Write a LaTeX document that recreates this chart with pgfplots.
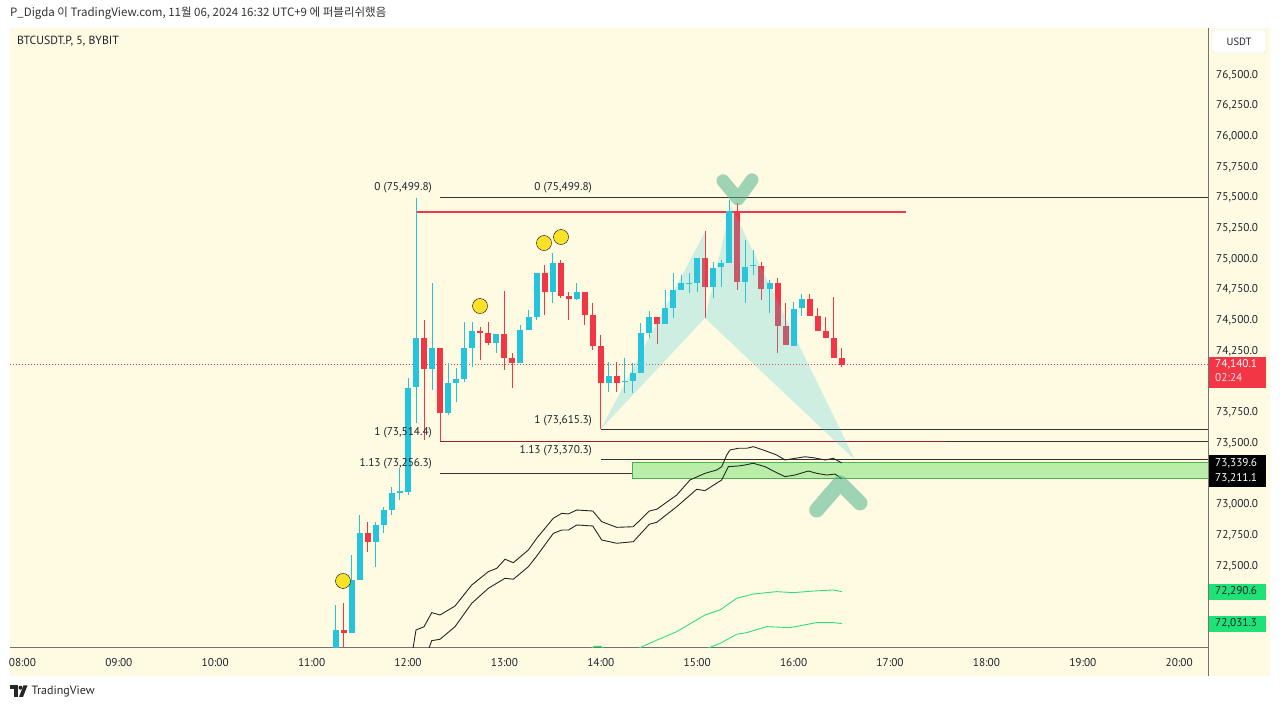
\documentclass[border=0pt]{standalone}
\usepackage{pgfplots}
\pgfplotsset{compat=1.18}
\usepackage{pgfplotstable}
\usepackage{fontspec}
\setmainfont{PT Sans}
\newfontfamily\krfont{Noto Sans CJK KR}

\definecolor{bgc}{RGB}{255,251,227}
\definecolor{upc}{RGB}{36,196,220}
\definecolor{dnc}{RGB}{242,54,69}
\definecolor{patc}{RGB}{60,200,220}
\definecolor{markc}{RGB}{80,180,140}
\definecolor{dotc}{RGB}{250,226,40}
\definecolor{grnc}{RGB}{50,222,120}
\definecolor{boxg}{RGB}{186,238,168}
\definecolor{boxgd}{RGB}{76,175,80}
\definecolor{lblg}{RGB}{30,226,120}
\definecolor{fibred}{RGB}{150,30,45}
\definecolor{txt}{RGB}{30,34,45}

\newcommand\tk{\fontsize{11.3bp}{13bp}\selectfont}

% 5-min candles, t in hours
\pgfplotstableread{
t o h l c
11.25 71694 72182 71571 71979
11.4167 71954 72590 71954 72386
11.5 72386 72915 72386 72769
11.6667 72696 72859 72492 72834
11.75 72834 72981 72769 72956
11.8333 72956 73144 72916 73095
11.9167 73095 73298 73038 73111
12 73103 74032 73078 73950
12.0833 73958 75499.8 73665 74357
12.25 74105 74806 73934 74276
12.4167 73747 74154 73730 73991
12.5 73991 74113 73836 74024
12.5833 74024 74488 73999 74276
12.6667 74276 74488 74121 74415
12.9167 74317 74390 74235 74390
13.1667 74154 74463 74154 74423
13.25 74423 74586 74423 74529
13.3333 74529 74887 74504 74887
13.5 74732 75050 74643 74969
13.75 74675 74806 74667 74732
14.0833 73991 74162 73918 74048
14.25 73999 74195 73909 74007
14.3333 74007 74154 73909 74072
14.4167 74072 74480 74072 74398
14.5 74398 74577 74357 74529
14.6667 74472 74749 74472 74602
14.75 74602 74887 74520 74749
14.8333 74749 74871 74749 74806
14.9167 74797 74887 74724 74806
15 74806 75009 74732 75009
15.1667 74773 74977 74683 74928
15.25 74936 74993 74773 74969
15.3333 74969 75482 74969 75390
15.5 74814 75156 74643 74936
15.5833 74944 75074 74871 74952
15.75 74757 74830 74561 74806
16 74292 74651 74292 74594
16.0833 74602 74716 74537 74675
}\upc

\pgfplotstableread{
t o h l c
11.3333 71979 72199 71816 71954
11.5833 72769 72859 72614 72696
12.1667 74357 74504 73527 74105
12.3333 74276 74280 73514.4 73747
12.75 74415 74447 74178 74398
12.8333 74398 74488 74300 74317
13 74390 74740 74097 74195
13.0833 74195 74235 73950 74154
13.4167 74887 74952 74545 74732
13.5833 74969 74993 74683 74700
13.6667 74700 74732 74504 74675
13.8333 74732 74732 74463 74545
13.9167 74545 74643 74260 74292
14 74292 74382 73615.3 73991
14.1667 74048 74162 73918 73991
14.5833 74529 74529 74309 74472
15.0833 75009 75229 74520 74773
15.4167 75390 75458 74749 74814
15.6667 74944 74977 74667 74757
15.8333 74806 74846 74235 74455
15.9167 74455 74643 74300 74300
16.1667 74675 74716 74537 74537
16.25 74537 74602 74415 74415
16.3333 74415 74529 74357 74357
16.4167 74357 74692 74195 74195
16.5 74195 74276 74121 74140.1
}\dnc

\begin{document}
\begin{tikzpicture}[x=1bp,y=1bp]
\useasboundingbox (0,0) rectangle (1280,709);
\fill[white] (0,0) rectangle (1280,709);
\fill[bgc] (10,33) rectangle (1270,681);
\node[anchor=west, inner sep=0, text=black!80, font={\krfont\fontsize{11.5bp}{13bp}\selectfont}] at (10,696)
  {P\_Digda 이 TradingView.com, 11월 06, 2024 16:32 UTC+9 에 퍼블리쉬했음};
\node[anchor=west, inner sep=0, text=txt, font={\fontsize{11.8bp}{13bp}\selectfont}] at (17,668) {BTCUSDT.P, 5, BYBIT};
\draw[fill=white, draw=black!10, rounded corners=3] (1212,656) rectangle (1266,679);
\node[text=txt, font={\fontsize{10.5bp}{12bp}\selectfont}] at (1239,667.5) {USDT};
\draw[black!55, line width=1] (1208,33) -- (1208,61);
% logo
\fill[black!85] (10,20) rectangle (17.5,23.5);
\fill[black!85] (13.8,12) rectangle (17.5,23.5);
\fill[black!85] (20.5,21.3) circle (2);
\fill[black!85] (23.5,23.5) -- (27.5,23.5) -- (23,12) -- (19,12) -- cycle;
\node[anchor=west, inner sep=0, text=black!85, font={\fontsize{12bp}{14bp}\selectfont}] at (31.5,17.8) {TradingView};

\begin{axis}[
  at={(10bp,61bp)}, anchor=south west, scale only axis,
  width=1198bp, height=620bp,
  xmin=7.871, xmax=20.299, ymin=71832, ymax=76883,
  axis x line*=bottom, axis y line*=right,
  axis line style={draw=black!55, line width=1bp},
  clip mode=individual,
  scaled ticks=false,
  tick style={draw=none}, major tick length=0pt,
  xtick={8,...,20},
  xticklabels={08:00,09:00,10:00,11:00,12:00,13:00,14:00,15:00,16:00,17:00,18:00,19:00,20:00},
  xticklabel style={font=\tk, text=txt, anchor=base, inner sep=0pt, yshift=-19bp},
  ytick={72500,72750,73000,73500,73750,74250,74500,74750,75000,75250,75500,75750,76000,76250,76500},
  yticklabel={\pgfmathprintnumber[fixed,fixed zerofill,precision=1,1000 sep={,},assume math mode=true]{\tick}},
  yticklabel style={font=\tk, text=txt, anchor=west, inner sep=0pt, xshift=8bp},
  candle/.style={draw=none, mark=none, error bars/.cd, y dir=plus, y explicit, error mark=none},
]
% fib levels
\addplot[black!80, line width=1bp] coordinates {(12.3333,75499.8) (20.299,75499.8)};
\addplot[black!80, line width=1bp] coordinates {(12.3333,73514.4) (20.299,73514.4)};
\addplot[black!80, line width=1bp] coordinates {(12.3333,73256.3) (20.299,73256.3)};
\addplot[black!80, line width=1bp] coordinates {(14,73615.3) (20.299,73615.3)};
\addplot[black!80, line width=1bp] coordinates {(14,73370.3) (20.299,73370.3)};
\addplot[dnc, line width=2bp] coordinates {(12.0833,75384) (17.1667,75384)};
\addplot[fibred, line width=1.6bp] coordinates {(12.3333,73514.4) (17.5833,73514.4)};
% zone
\addplot[fill=boxg, draw=boxgd, line width=1bp] coordinates {(14.3333,73211.1) (20.299,73211.1) (20.299,73339.6) (14.3333,73339.6) (14.3333,73211.1)};
% last price
\addplot[dnc, line width=0.8bp, dash pattern=on 1bp off 2bp] coordinates {(7.871,74140.1) (20.299,74140.1)};
% candles: wicks then bodies
\addplot[candle, error bar style={line width=1bp, draw=upc}] table[x=t, y=l, y error expr=\thisrow{h}-\thisrow{l}] {\upc};
\addplot[candle, error bar style={line width=1bp, draw=dnc}] table[x=t, y=l, y error expr=\thisrow{h}-\thisrow{l}] {\dnc};
\addplot[candle, error bar style={line width=6bp, draw=upc}] table[x=t, y expr={min(\thisrow{o},\thisrow{c})}, y error expr={max(abs(\thisrow{c}-\thisrow{o}),12)}] {\upc};
\addplot[candle, error bar style={line width=6bp, draw=dnc}] table[x=t, y expr={min(\thisrow{o},\thisrow{c})}, y error expr={max(abs(\thisrow{c}-\thisrow{o}),12)}] {\dnc};
% harmonic pattern
\addplot[draw=none, fill=patc, fill opacity=0.25] coordinates {(14,73615.3) (15.0809,75221) (15.0809,74520)};
\addplot[draw=none, fill=patc, fill opacity=0.25] coordinates {(15.0809,74520) (15.3506,75433) (16.637,73364)};
% bands
\addplot[black!85, line width=0.9bp] coordinates {
(12.02,71600) (12.0488,71816) (12.083,71979) (12.166,72005) (12.2459,72120) (12.332,72101)
(12.4876,72174) (12.6608,72345) (12.833,72454) (12.9201,72481) (13.0062,72555) (13.0923,72527)
(13.2479,72630) (13.3351,72726) (13.5073,72889) (13.5944,72929) (13.6629,72924) (13.75,72956)
(13.916,72948) (14.0094,72861) (14.1649,72815) (14.3372,72820) (14.5031,72948) (14.5799,72962)
(14.7873,73078) (14.9253,73201) (15.0809,73255) (15.2023,73282) (15.2542,73309) (15.306,73404)
(15.3402,73445) (15.4263,73459) (15.5135,73459) (15.5819,73472) (15.6857,73445) (15.8247,73404)
(15.9108,73364) (16.0145,73377) (16.1183,73390) (16.2044,73382) (16.3257,73364) (16.4118,73377)
(16.499,73339.6)};
\addplot[black!85, line width=0.9bp] coordinates {
(12.19,71650) (12.2106,71816) (12.2459,71892) (12.332,71903) (12.4876,72006) (12.6608,72196)
(12.833,72318) (13.0062,72400) (13.0923,72392) (13.2479,72494) (13.3351,72581) (13.5073,72766)
(13.5944,72793) (13.6629,72793) (13.75,72834) (13.916,72826) (14.0094,72712) (14.1649,72685)
(14.3372,72698) (14.5031,72840) (14.5799,72856) (14.7873,72983) (14.9948,73125) (15.0809,73114)
(15.2542,73201) (15.3227,73309) (15.4263,73315) (15.4959,73323) (15.5819,73337) (15.7033,73309)
(15.8247,73260) (15.9108,73228) (16.0145,73241) (16.1525,73274) (16.2396,73255) (16.3433,73241)
(16.4295,73249) (16.499,73211.1)};
\addplot[grnc, line width=0.9bp] coordinates {
(14.2,71700) (14.3548,71816) (14.5446,71884) (14.7873,71965) (15.0809,72101) (15.2365,72142)
(15.4098,72237) (15.5819,72272) (15.8247,72291) (15.9969,72283) (16.2044,72296) (16.4118,72305)
(16.499,72290.6)};
\addplot[grnc, line width=0.9bp] coordinates {
(14.95,71720) (15.0633,71816) (15.2365,71870) (15.4098,71944) (15.5135,71957) (15.721,72006)
(15.9627,71998) (16.2396,72039) (16.4118,72039) (16.499,72031.3)};
\addplot[grnc, line width=1bp] coordinates {(13.86,71800) (13.93,71846) (14.0,71846) (14.07,71800)};
% signal dots
\addplot[only marks, mark=*, mark size=7.5bp, mark options={fill=dotc, draw=none}] coordinates {
(11.3257,72378) (12.7469,74618) (13.4108,75131) (13.5871,75180)};
% hand-drawn marks
\addplot[markc, draw opacity=0.55, line width=13bp, line cap=round, line join=round] coordinates {
(15.2676,75638) (15.4232,75490) (15.5685,75646)};
\addplot[markc, draw opacity=0.55, line width=15bp, line cap=round, line join=round] coordinates {
(16.2396,72956) (16.4813,73177) (16.6888,73014)};
% fib labels
\node[anchor=base east, inner sep=0, font=\tk, text=txt] at (axis cs:12.2490,75499.8) [yshift=7bp] {0 (75,499.8)};
\node[anchor=base east, inner sep=0, font=\tk, text=txt] at (axis cs:12.2490,73514.4) [yshift=6bp] {1 (73,514.4)};
\node[anchor=base east, inner sep=0, font=\tk, text=txt] at (axis cs:12.2490,73256.3) [yshift=6.5bp] {1.13 (73,256.3)};
\node[anchor=base east, inner sep=0, font=\tk, text=txt] at (axis cs:13.9090,75499.8) [yshift=7bp] {0 (75,499.8)};
\node[anchor=base east, inner sep=0, font=\tk, text=txt] at (axis cs:13.9090,73615.3) [yshift=6bp] {1 (73,615.3)};
\node[anchor=base east, inner sep=0, font=\tk, text=txt] at (axis cs:13.9090,73370.3) [yshift=6bp] {1.13 (73,370.3)};
% price scale labels
\node[anchor=north west, fill=dnc, inner sep=0, minimum width=57bp, minimum height=31bp] at (axis cs:20.299,74140.1) [xshift=1bp, yshift=8bp] {};
\node[anchor=west, inner sep=0, font=\tk, text=white] at (axis cs:20.299,74140.1) [xshift=7bp] {74,140.1};
\node[anchor=west, inner sep=0, font=\tk, text=white!85!dnc] at (axis cs:20.299,74140.1) [xshift=7bp, yshift=-13bp] {02:24};
\node[anchor=west, fill=black, inner sep=0, minimum width=57bp, minimum height=16bp] at (axis cs:20.299,73339.6) [xshift=1bp] {};
\node[anchor=west, fill=black, inner sep=0, minimum width=57bp, minimum height=16bp] at (axis cs:20.299,73211.1) [xshift=1bp] {};
\node[anchor=west, inner sep=0, font=\tk, text=white] at (axis cs:20.299,73339.6) [xshift=7bp] {73,339.6};
\node[anchor=west, inner sep=0, font=\tk, text=white] at (axis cs:20.299,73211.1) [xshift=7bp] {73,211.1};
\node[anchor=west, fill=lblg, inner sep=0, minimum width=57bp, minimum height=16bp] at (axis cs:20.299,72290.6) [xshift=1bp] {};
\node[anchor=west, fill=lblg, inner sep=0, minimum width=57bp, minimum height=16bp] at (axis cs:20.299,72031.3) [xshift=1bp] {};
\node[anchor=west, inner sep=0, font=\tk, text=txt] at (axis cs:20.299,72290.6) [xshift=7bp] {72,290.6};
\node[anchor=west, inner sep=0, font=\tk, text=txt] at (axis cs:20.299,72031.3) [xshift=7bp] {72,031.3};
\end{axis}
\end{tikzpicture}
\end{document}
